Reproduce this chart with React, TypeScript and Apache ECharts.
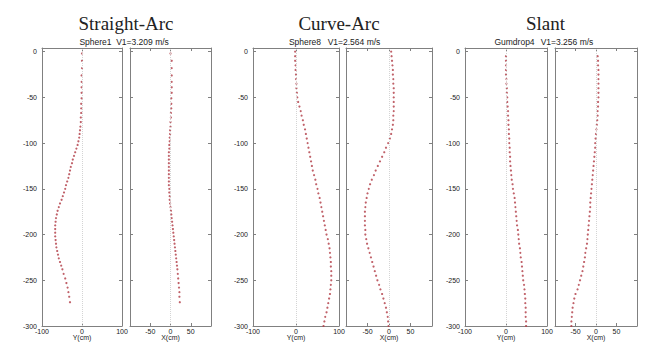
import React, { useEffect, useRef } from "react";
import * as echarts from "echarts";

// ---------- data ----------
const GROUP_TITLES = ["Straight-Arc", "Curve-Arc", "Slant"];
const GROUP_OBJECTS = ["Sphere1", "Sphere8", "Gumdrop4"];
const GROUP_SPEEDS = ["V1=3.209 m/s", "V1=2.564 m/s", "V1=3.256 m/s"];

const DEPTH_TICKS = [0, -50, -100, -150, -200, -250, -300];
const LEFT_X_TICKS = [-100, 0, 100];
const RIGHT_X_TICKS = [-50, 0, 50];

// Straight-Arc (Sphere1)
const G1_DEPTH = [-2, -10, -18, -26, -33, -39, -45, -51, -57, -62, -67, -72, -77, -82, -86, -90, -94, -98, -102, -106, -110, -114, -118, -122, -126, -130, -134, -138, -142, -146, -150, -154, -158, -162, -166, -170, -174, -178, -182, -186, -190, -194, -198, -202, -206, -210, -214, -218, -222, -226, -230, -234, -238, -243, -248, -253, -258, -263, -268, -274];
const G1_Y = [0, 0, 0, -1, -1, -1, -1, -1, -2, -2, -2, -3, -3, -4, -5, -6, -7, -9, -11, -14, -17, -20, -23, -25, -28, -30, -32, -34, -37, -40, -42, -45, -48, -51, -55, -58, -61, -63, -65, -66, -67, -67, -67, -67, -66, -65, -64, -62, -60, -58, -55, -52, -49, -46, -42, -39, -36, -34, -32, -30];
const G1_X = [0, 3, 3, 3, 3, 3, 3, 2, 2, 2, 1, 1, 0, 0, -1, -1, -2, -2, -3, -3, -4, -4, -4, -4, -4, -4, -4, -4, -4, -4, -3, -3, -2, -2, -1, 0, 1, 2, 3, 4, 5, 6, 7, 8, 9, 10, 11, 12, 13, 14, 15, 16, 17, 18, 19, 20, 21, 22, 22, 23];

// Curve-Arc (Sphere8)
const G2_DEPTH = [0, -5, -10, -15, -20, -25, -30, -35, -40, -45, -50, -55, -60, -65, -70, -75, -80, -85, -90, -95, -100, -105, -110, -115, -120, -125, -130, -135, -140, -145, -150, -155, -160, -165, -170, -175, -180, -185, -190, -195, -200, -205, -210, -215, -220, -225, -230, -235, -240, -245, -250, -255, -260, -265, -270, -275, -280, -285, -290, -295, -300];
const G2_Y = [-2, -2, -2, -1, -1, 0, 0, 1, 1, 2, 3, 5, 8, 11, 13, 16, 18, 21, 23, 25, 27, 29, 31, 33, 35, 37, 39, 42, 45, 47, 50, 52, 55, 57, 59, 61, 63, 65, 67, 69, 71, 74, 76, 78, 79, 80, 81, 81, 82, 82, 82, 81, 80, 79, 77, 75, 73, 71, 68, 66, 64];
const G2_X = [5, 6, 7, 8, 9, 9, 10, 10, 11, 11, 11, 11, 11, 11, 10, 10, 9, 7, 5, 2, -2, -7, -11, -16, -21, -26, -31, -35, -40, -44, -47, -50, -52, -54, -55, -56, -56, -56, -56, -55, -55, -53, -51, -48, -45, -42, -39, -36, -33, -30, -27, -23, -20, -16, -13, -10, -7, -5, -3, -2, -1];

// Slant (Gumdrop4)
const G3_DEPTH = [-5, -10, -15, -20, -25, -30, -35, -40, -45, -50, -55, -60, -65, -70, -75, -80, -85, -90, -95, -100, -105, -110, -115, -120, -125, -130, -135, -140, -145, -150, -155, -160, -165, -170, -175, -180, -185, -190, -195, -200, -205, -210, -215, -220, -225, -230, -235, -240, -245, -250, -255, -260, -265, -270, -275, -280, -285, -290, -295, -300];
const G3_Y = [0, 0, 0, 0, 0, 1, 1, 2, 2, 3, 3, 4, 5, 5, 6, 6, 7, 7, 8, 8, 9, 9, 10, 10, 11, 12, 13, 14, 16, 17, 19, 21, 22, 23, 24, 25, 26, 27, 29, 30, 31, 32, 34, 35, 36, 38, 39, 40, 41, 42, 44, 45, 46, 47, 47, 48, 48, 48, 49, 49];
const G3_X = [4, 5, 5, 6, 6, 6, 6, 6, 6, 6, 5, 5, 4, 4, 3, 2, 1, 0, -1, -2, -2, -3, -4, -5, -6, -7, -8, -9, -10, -11, -12, -13, -14, -14, -15, -16, -17, -18, -19, -20, -21, -22, -24, -26, -27, -29, -31, -33, -36, -39, -42, -45, -50, -53, -55, -57, -58, -59, -60, -60];

// ---------- layout ----------
const PANELS = [
  { left: 42, width: 80, depth: G1_DEPTH, vals: G1_Y, side: "L", name: "Y(cm)" },
  { left: 130, width: 81, depth: G1_DEPTH, vals: G1_X, side: "R", name: "X(cm)" },
  { left: 253, width: 86, depth: G2_DEPTH, vals: G2_Y, side: "L", name: "Y(cm)" },
  { left: 346, width: 86, depth: G2_DEPTH, vals: G2_X, side: "R", name: "X(cm)" },
  { left: 465, width: 82, depth: G3_DEPTH, vals: G3_Y, side: "L", name: "Y(cm)" },
  { left: 555, width: 82, depth: G3_DEPTH, vals: G3_X, side: "R", name: "X(cm)" },
];
const TITLE_X = [126, 339, 545.5];
const OBJ_X = [95.5, 305, 514.5];
const SPEED_X = [142.5, 354, 567];

const GRID_TOP = 48;
const GRID_BOTTOM_Y = 326;
const AXIS_COLOR = "#808080";
const LABEL_COLOR = "#222222";
const SANS = "Liberation Sans, Arial, sans-serif";
const SERIF = "Liberation Serif, Times New Roman, serif";

export default function App() {
  const ref = useRef<HTMLDivElement>(null);

  useEffect(() => {
    if (!ref.current) return;
    const chart = echarts.init(ref.current, null, { renderer: "svg" });

    const grids: any[] = [];
    const xAxes: any[] = [];
    const yAxes: any[] = [];
    const series: any[] = [];

    PANELS.forEach((p, i) => {
      grids.push({
        left: p.left,
        top: GRID_TOP,
        width: p.width,
        height: GRID_BOTTOM_Y - GRID_TOP,
        containLabel: false,
      });
      const xTicks = p.side === "L" ? LEFT_X_TICKS : RIGHT_X_TICKS;
      const baseX = {
        type: "value",
        gridIndex: i,
        min: -100,
        max: 100,
        splitLine: { show: false },
        axisLine: { show: true, onZero: false, lineStyle: { color: AXIS_COLOR, width: 1 } },
        axisTick: { show: true, inside: true, length: 3, customValues: xTicks, lineStyle: { color: AXIS_COLOR } },
      };
      xAxes.push({
        ...baseX,
        position: "bottom",
        name: p.name,
        nameLocation: "middle",
        nameGap: 8,
        nameMoveOverlap: false,
        nameTextStyle: { fontSize: 7, color: LABEL_COLOR, fontFamily: SANS },
        axisLabel: {
          show: true,
          customValues: xTicks,
          fontSize: 7,
          color: LABEL_COLOR,
          fontFamily: SANS,
          margin: 2,
        },
      });
      xAxes.push({ ...baseX, position: "top", axisLabel: { show: false } });

      const baseY = {
        type: "value",
        gridIndex: i,
        min: -300,
        max: 4,
        splitLine: { show: false },
        axisLine: { show: true, onZero: false, lineStyle: { color: AXIS_COLOR, width: 1 } },
        axisTick: { show: true, inside: true, length: 3, customValues: DEPTH_TICKS, lineStyle: { color: AXIS_COLOR } },
      };
      yAxes.push({
        ...baseY,
        position: "left",
        axisLabel: {
          show: p.side === "L",
          customValues: DEPTH_TICKS,
          fontSize: 7,
          color: LABEL_COLOR,
          fontFamily: SANS,
          margin: 5,
        },
      });
      yAxes.push({ ...baseY, position: "right", axisLabel: { show: false } });

      series.push({
        type: "scatter",
        xAxisIndex: 2 * i,
        yAxisIndex: 2 * i,
        symbol: "circle",
        symbolSize: 2.2,
        itemStyle: { color: "#b03a44" },
        data: p.depth.map((d, k) => [p.vals[k], d]),
        markLine: {
          silent: true,
          symbol: "none",
          label: { show: false },
          lineStyle: { color: "#d4d4d4", type: "dotted", width: 1 },
          data: [{ xAxis: 0 }],
        },
        z: 3,
      });
    });

    const graphics: any[] = [];
    GROUP_TITLES.forEach((t, g) => {
      graphics.push({
        type: "text",
        x: TITLE_X[g],
        y: 23,
        style: {
          text: t,
          font: `19px ${SERIF}`,
          fill: "#222",
          textAlign: "center",
          textVerticalAlign: "middle",
        },
      });
      graphics.push({
        type: "text",
        x: OBJ_X[g],
        y: 41.5,
        style: {
          text: GROUP_OBJECTS[g],
          font: `8.5px ${SANS}`,
          fill: "#222",
          textAlign: "center",
          textVerticalAlign: "middle",
        },
      });
      graphics.push({
        type: "text",
        x: SPEED_X[g],
        y: 41.5,
        style: {
          text: GROUP_SPEEDS[g],
          font: `8.5px ${SANS}`,
          fill: "#222",
          textAlign: "center",
          textVerticalAlign: "middle",
        },
      });
    });

    chart.setOption({
      animation: false,
      backgroundColor: "#ffffff",
      textStyle: { color: LABEL_COLOR, fontFamily: SANS },
      grid: grids,
      xAxis: xAxes,
      yAxis: yAxes,
      series,
      graphic: graphics,
    });

    return () => chart.dispose();
  }, []);

  return (
    <div
      ref={ref}
      style={{ position: "fixed", left: 0, top: 0, width: 660, height: 360 }}
    />
  );
}
